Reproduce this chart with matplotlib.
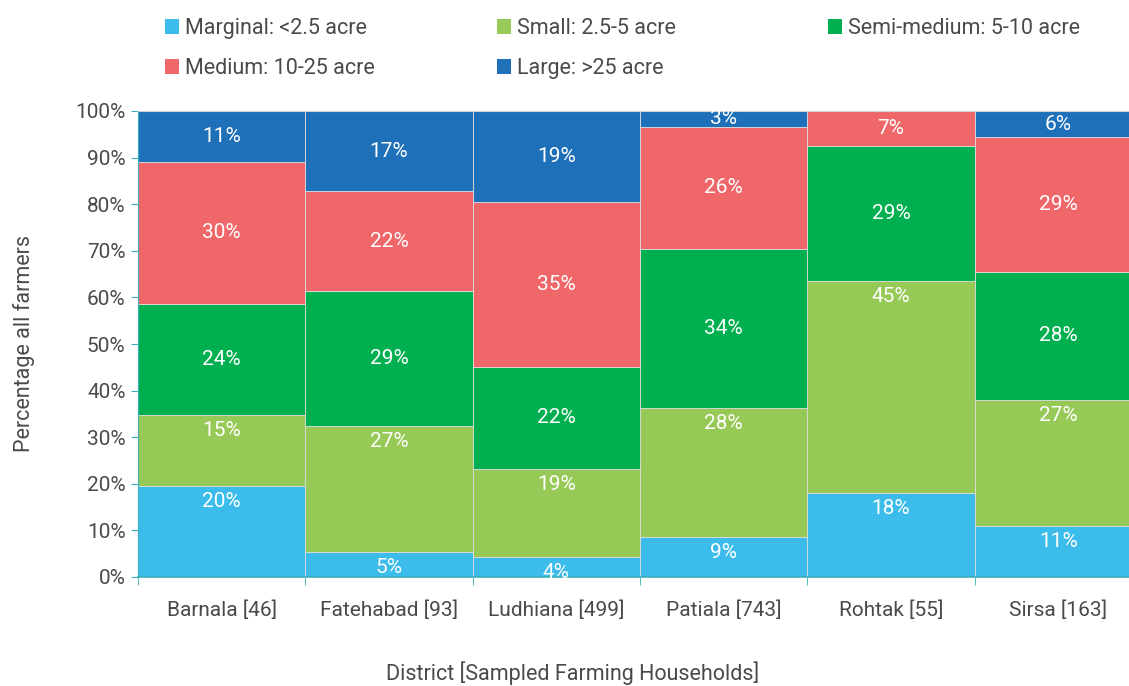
import matplotlib.pyplot as plt
from matplotlib.patches import Patch
import numpy as np

# Datos (porcentaje de agricultores por tamaño de finca)
distritos = ['Barnala [46]', 'Fatehabad [93]', 'Ludhiana [499]',
             'Patiala [743]', 'Rohtak [55]', 'Sirsa [163]']
series = ['Marginal: <2.5 acre', 'Small: 2.5-5 acre', 'Semi-medium: 5-10 acre',
          'Medium: 10-25 acre', 'Large: >25 acre']
marginal = [19.5, 5.4, 4.3, 8.6, 18.0, 10.9]
small = [15.2, 26.9, 18.9, 27.7, 45.5, 27.1]
semi_medium = [23.9, 29.0, 21.9, 34.1, 29.0, 27.5]
medium = [30.5, 21.5, 35.4, 26.2, 7.5, 28.9]
large = [10.9, 17.2, 19.5, 3.4, 0.0, 5.6]
etiquetas = [
    ['20%', '5%', '4%', '9%', '18%', '11%'],
    ['15%', '27%', '19%', '28%', '45%', '27%'],
    ['24%', '29%', '22%', '34%', '29%', '28%'],
    ['30%', '22%', '35%', '26%', '7%', '29%'],
    ['11%', '17%', '19%', '3%', '', '6%'],
]

colores = ['#3BBCEB', '#97C957', '#00B050', '#F0676A', '#1E70B8']
teal = '#3AAFB9'
gris = '#4A4A4A'

plt.rcParams['font.family'] = ['Roboto', 'DejaVu Sans']

fig = plt.figure(figsize=(11.29, 6.86), dpi=100)
ax = fig.add_axes([138 / 1129, 1 - 577 / 686, (1142 - 138) / 1129, (577 - 111) / 686])

x = np.arange(len(distritos))
valores = [marginal, small, semi_medium, medium, large]
bottom = np.zeros(len(distritos))
for i, vals in enumerate(valores):
    vals = np.array(vals)
    ax.bar(x, vals, width=1.0, bottom=bottom, color=colores[i],
           edgecolor='#DDDDDD', linewidth=0.6, label=series[i])
    for j in range(len(distritos)):
        if not etiquetas[i][j]:
            continue
        if i < 2:
            # etiqueta en el extremo interior (como en Excel)
            ax.annotate(etiquetas[i][j], (x[j], bottom[j] + vals[j]),
                        xytext=(0, -11), textcoords='offset points',
                        ha='center', va='center', color='white', fontsize=15)
        else:
            ax.text(x[j], bottom[j] + vals[j] / 2, etiquetas[i][j],
                    ha='center', va='center', color='white', fontsize=15)
    bottom += vals

ax.set_xlim(-0.5, len(distritos) - 0.5)
ax.set_ylim(0, 100)
ax.set_yticks(np.arange(0, 101, 10))
ax.set_yticklabels([f'{v}%' for v in range(0, 101, 10)])
ax.set_xticks(x)
ax.set_xticklabels(distritos)
ax.set_xticks(np.arange(-0.5, len(distritos), 1.0), minor=True)
ax.tick_params(axis='x', which='major', length=0, pad=17, labelsize=15, labelcolor=gris)
ax.tick_params(axis='x', which='minor', length=6, color=teal)
ax.tick_params(axis='y', length=5, color=teal, labelsize=15, labelcolor=gris, pad=4)

ax.spines['left'].set_color(teal)
ax.spines['bottom'].set_color(teal)
ax.spines['bottom'].set_linewidth(1.2)
ax.spines['top'].set_color('#C8D0D8')
ax.spines['right'].set_visible(False)

ax.set_xlabel('District [Sampled Farming Households]', fontsize=15.5, color=gris)
ax.set_ylabel('Percentage all farmers', fontsize=15.5, color=gris)
ax.xaxis.set_label_coords((573 - 138) / (1142 - 138), -0.18)
ax.yaxis.set_label_coords(-0.103, 0.5)

# leyenda en 3 columnas fijas (filas: Marginal/Small/Semi, Medium/Large)
columnas = [[0, 3], [1, 4], [2]]
x_col = [165, 497, 828]
for cols, xc in zip(columnas, x_col):
    handles = [Patch(facecolor=colores[k], edgecolor='none') for k in cols]
    leg = fig.legend(handles, [series[k] for k in cols], loc='upper left',
                     bbox_to_anchor=(xc / 1129, 1 - 18 / 686),
                     frameon=False, fontsize=15.5, handlelength=0.65, handleheight=0.65,
                     handletextpad=0.3, labelspacing=0.88, borderpad=0,
                     borderaxespad=0, labelcolor=gris)

fig.savefig('out.png', dpi=100)
